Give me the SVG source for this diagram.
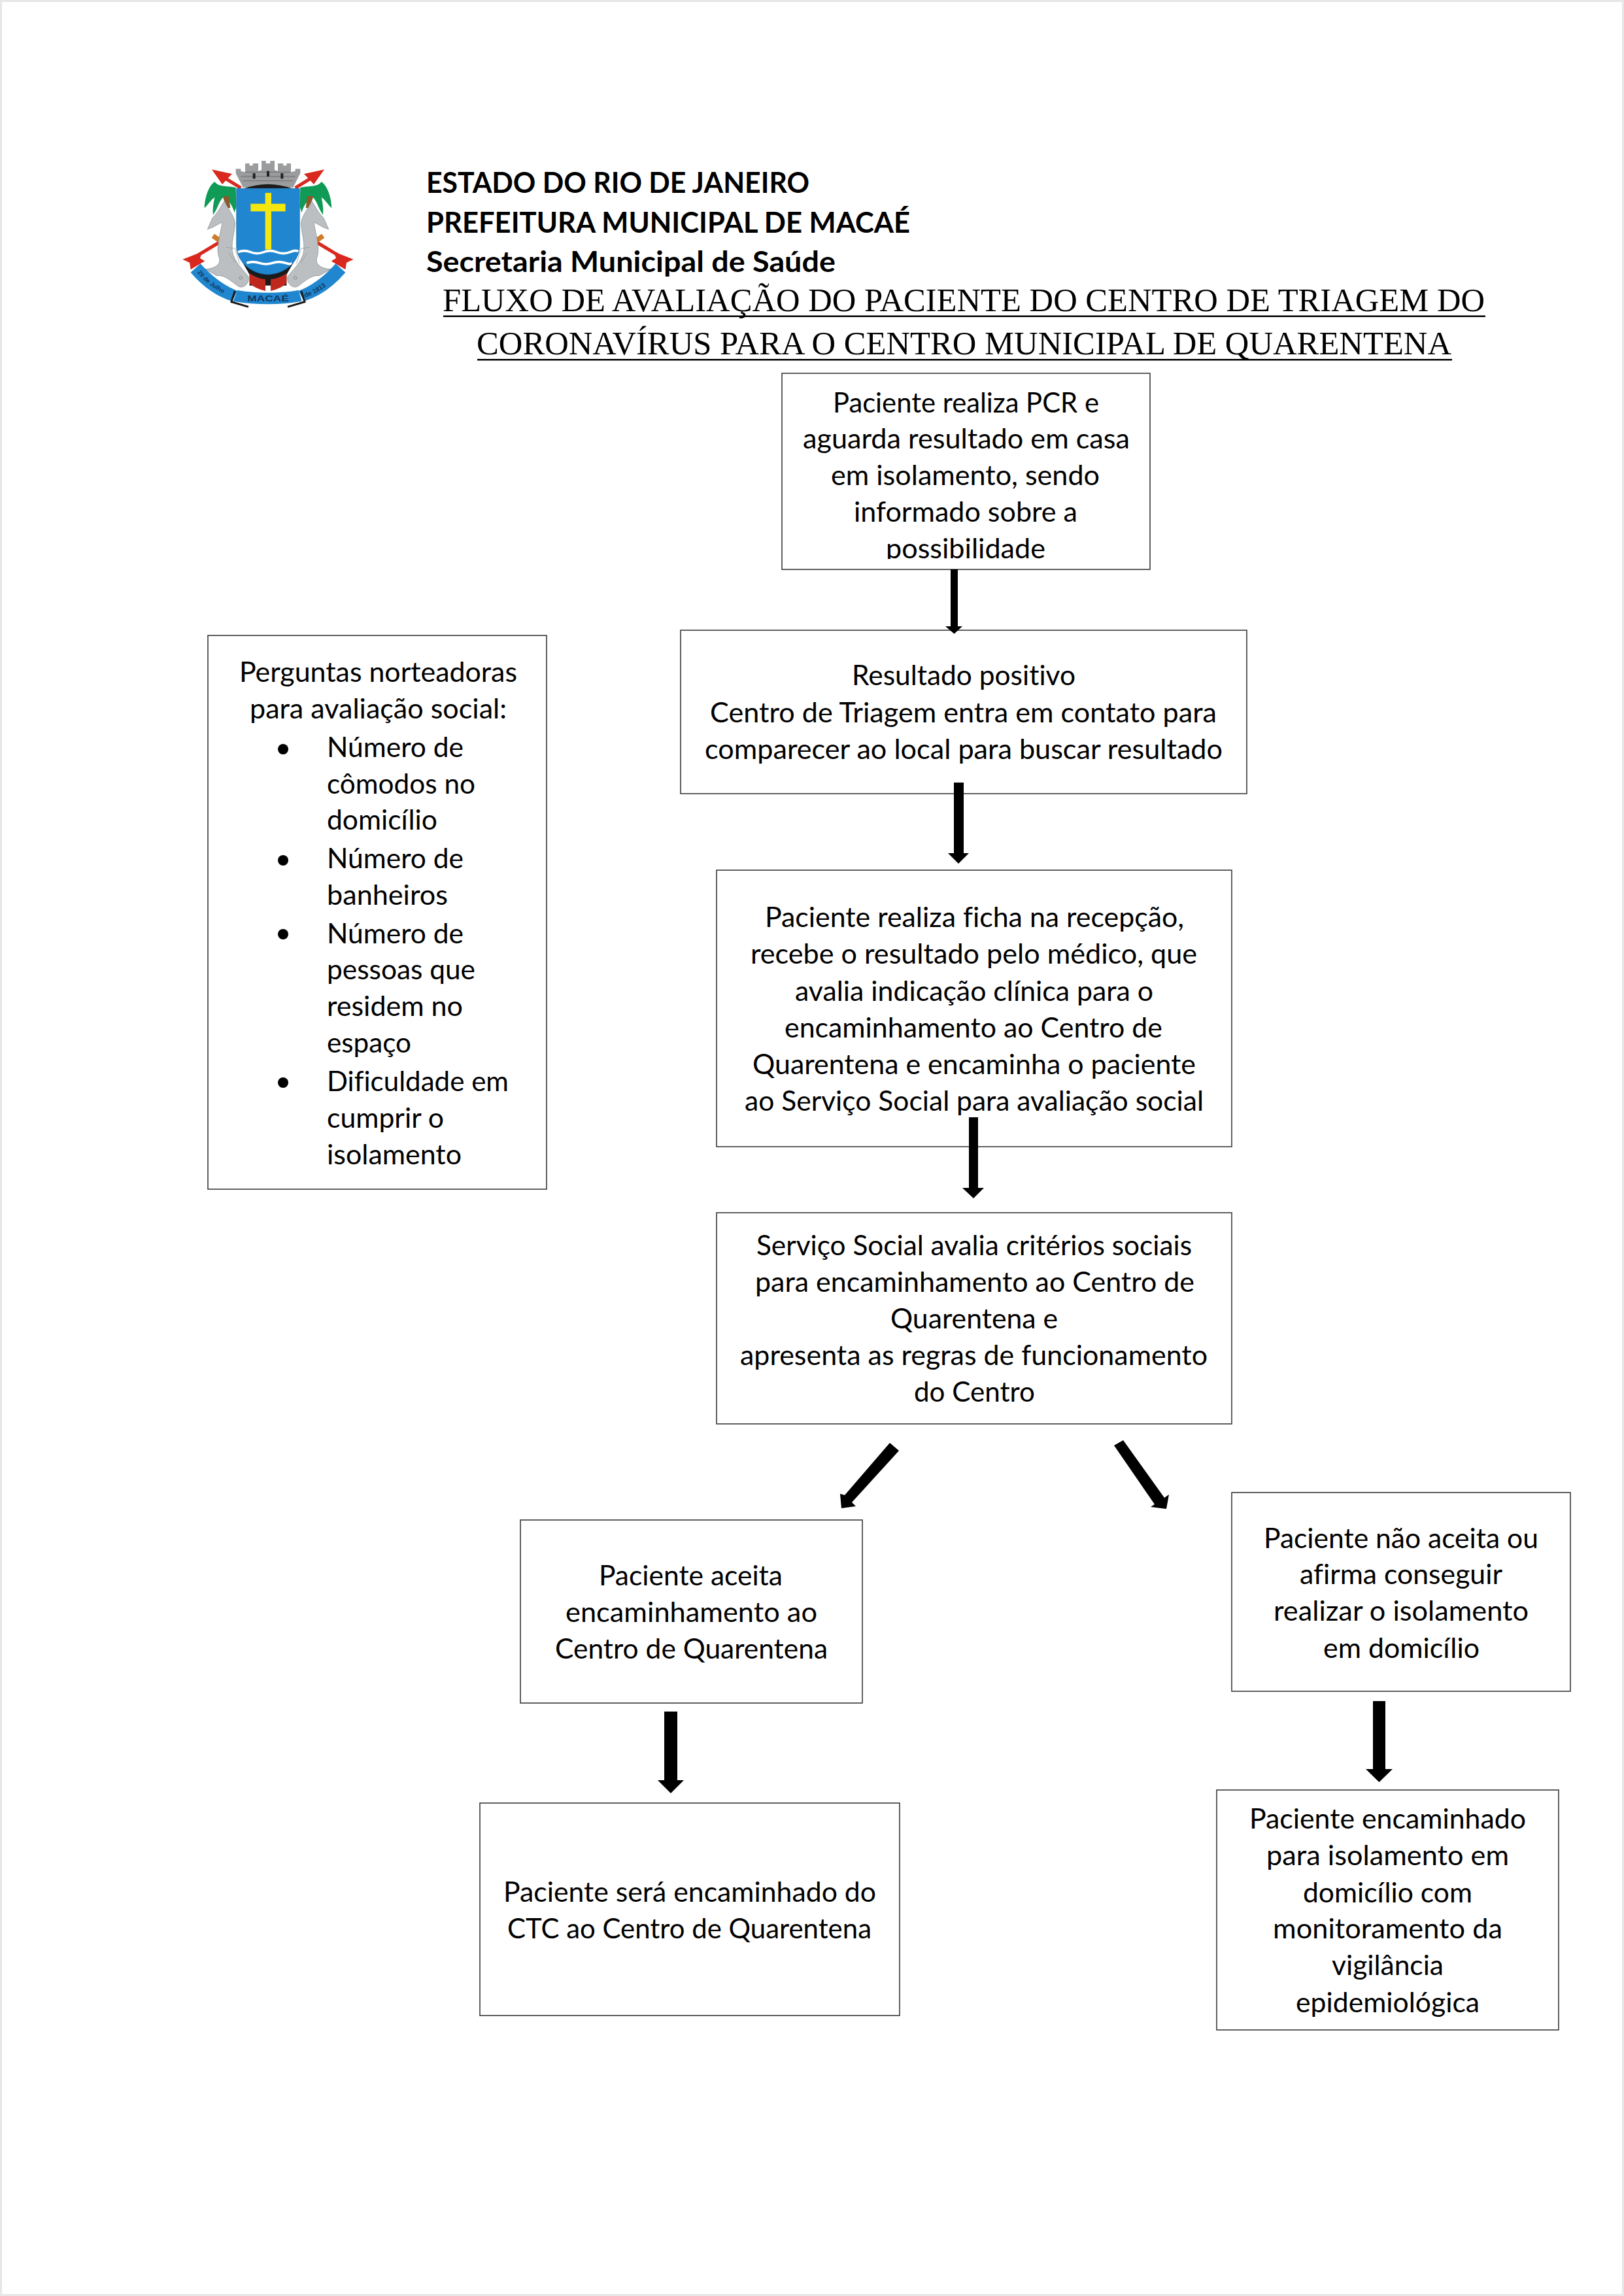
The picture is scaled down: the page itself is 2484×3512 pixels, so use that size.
<svg xmlns="http://www.w3.org/2000/svg" xmlns:xlink="http://www.w3.org/1999/xlink" width="2484" height="3512" viewBox="0 0 2484 3512">
<style>
.box{fill:#fff;stroke:#3a3a3a;stroke-width:1.6}
text{fill:#000;font-variant-ligatures:none}
.b{font-family:"Lato","Carlito","Liberation Sans",sans-serif;font-size:42px}
.h{font-family:"Lato","Carlito","Liberation Sans",sans-serif;font-size:44px;font-weight:700}
.t{font-family:"Liberation Serif","Times New Roman",serif;font-size:51px}
.ar{fill:#000}
.red{fill:#d9281e}
.redl{stroke:#d9281e;stroke-width:15;fill:none}
.lg{font-family:"Liberation Sans",sans-serif;font-weight:700;fill:#14365e}
</style>
<defs>
<clipPath id="clip1"><rect x="1197" y="572" width="561" height="283"/></clipPath>
<g id="logo-half">
<line class="redl" x1="385" y1="202" x2="300" y2="150"/>
<polygon class="red" points="252,118 345,138 325,158 300,186"/>
<path fill="#0f9a55" d="M362,200C320,192 285,200 265,174C240,190 220,240 218,295C238,275 250,255 265,245C258,280 255,300 258,326C280,295 285,262 305,245C325,250 345,280 356,315L364,290Z"/>
<rect x="303" y="360" width="20" height="62" fill="#0f9a55"/>
<path fill="#8a5a2b" d="M302,240L330,240L337,295L318,295Z"/>
<line class="redl" x1="290" y1="450" x2="190" y2="510"/>
<polygon class="red" points="118,530 208,495 198,525 220,538 155,577 150,545"/>
<rect x="253" y="423" width="44" height="22" fill="#d07a2a" transform="rotate(35 274 435)"/>
<path fill="#bcbfc1" stroke="#7f8386" stroke-width="2" d="M310,262C290,290 285,310 255,340L232,392C260,385 285,365 300,360C290,420 270,480 285,520C300,560 250,575 222,575L275,605C310,600 340,630 375,655C400,665 425,640 420,610C400,580 370,560 350,510C335,460 360,400 358,360C350,320 325,300 310,262Z"/>
<path fill="none" stroke="#8c9092" stroke-width="2" d="M318,475L358,480L380,550M330,500L360,545"/>
<circle cx="385" cy="615" r="7" fill="none" stroke="#6d7173" stroke-width="2"/>
<path fill="#1f86cf" d="M155,590Q240,690 345,722L370,675Q280,640 200,550Z"/>
<path fill="none" stroke="#1a1a1a" stroke-width="9" d="M358,675L342,725L420,748"/>
</g>
</defs>
<rect id="page" x="1.5" y="1.5" width="2481" height="3509" fill="#fff" stroke="#e6e6e6" stroke-width="3"/>

<g id="logo" transform="translate(240 220) scale(.33333)">
<use href="#logo-half" xlink:href="#logo-half"/>
<use href="#logo-half" xlink:href="#logo-half" transform="translate(1020 0) scale(-1 1)"/>
<polygon fill="#9a9c9d" points="362,115 385,115 385,125 405,130 405,90 425,90 425,100 440,100 440,90 465,90 465,125 480,120 480,78 500,78 500,90 520,90 520,78 540,78 540,120 555,125 555,90 580,90 580,100 595,100 595,90 615,90 615,130 635,125 635,115 658,115 658,135 625,200 395,200 362,135"/>
<path fill="none" stroke="#6c6e6f" stroke-width="3" d="M385,150H635M395,170H625M405,130H615"/>
<rect x="440" y="135" width="12" height="25" fill="#222"/>
<rect x="504" y="125" width="12" height="25" fill="#222"/>
<rect x="568" y="135" width="12" height="25" fill="#222"/>
<path fill="#1c1c1c" d="M400,205Q510,165 620,205Z"/>
<path fill="#1a1a1a" d="M385,530L425,600L425,650L595,650L595,600L635,530Z"/>
<path fill="#1f86cf" stroke="#1668ab" stroke-width="2" d="M365,205H655V470C655,530 600,595 510,600C420,595 365,530 365,470Z"/>
<path fill="none" stroke="#fff" stroke-width="11" d="M372,497Q400,485 430,497T490,497T550,497T610,497T648,494"/>
<path fill="none" stroke="#fff" stroke-width="11" d="M412,547Q440,537 470,547T530,547T590,547T612,545"/>
<rect x="497" y="225" width="28" height="260" fill="#f4e60f"/>
<rect x="430" y="275" width="160" height="35" fill="#f4e60f"/>
<path fill="#c1281d" d="M425,595Q465,620 498,622V675Q450,665 425,640Z"/>
<path fill="#c1281d" d="M595,595Q555,620 522,622V675Q570,665 595,640Z"/>
<path fill="#1f86cf" d="M370,672Q510,695 650,672L665,722Q510,750 350,722Z"/>
<text class="lg" x="510" y="722" font-size="38" text-anchor="middle" textLength="190" lengthAdjust="spacingAndGlyphs">MACAÉ</text>
<path id="lg-a" d="M185,590Q240,660 335,700" fill="none"/>
<path id="lg-b" d="M680,705Q780,670 835,590" fill="none"/>
<text class="lg" font-size="28"><textPath href="#lg-a" xlink:href="#lg-a">29 de Julho</textPath></text>
<text class="lg" font-size="30"><textPath href="#lg-b" xlink:href="#lg-b">de 1813</textPath></text>
</g>

<g id="header">
<text class="h" x="652" y="295" textLength="586" lengthAdjust="spacingAndGlyphs">ESTADO DO RIO DE JANEIRO</text>
<text class="h" x="652" y="356" textLength="740" lengthAdjust="spacingAndGlyphs">PREFEITURA MUNICIPAL DE MACAÉ</text>
<text class="h" x="652" y="416" textLength="626" lengthAdjust="spacingAndGlyphs">Secretaria Municipal de Saúde</text>
</g>
<g id="title">
<text class="t" x="677" y="476" textLength="1594" lengthAdjust="spacingAndGlyphs">FLUXO DE AVALIAÇÃO DO PACIENTE DO CENTRO DE TRIAGEM DO</text>
<rect x="678" y="482.5" width="1594" height="2.5"/>
<text class="t" x="729" y="542" textLength="1491" lengthAdjust="spacingAndGlyphs">CORONAVÍRUS PARA O CENTRO MUNICIPAL DE QUARENTENA</text>
<rect x="730" y="549" width="1491" height="2.5"/>
</g>

<g id="node-pcr">
<rect class="box" x="1196" y="571" width="563" height="300"/>
<g clip-path="url(#clip1)">
<text class="b" x="1274" y="630.5" textLength="407" lengthAdjust="spacingAndGlyphs">Paciente realiza PCR e</text>
<text class="b" x="1228" y="686" textLength="500" lengthAdjust="spacingAndGlyphs">aguarda resultado em casa</text>
<text class="b" x="1271" y="742" textLength="411" lengthAdjust="spacingAndGlyphs">em isolamento, sendo</text>
<text class="b" x="1306" y="798" textLength="342" lengthAdjust="spacingAndGlyphs">informado sobre a</text>
<text class="b" x="1355" y="854" textLength="244" lengthAdjust="spacingAndGlyphs">possibilidade</text>
</g>
</g>

<g id="node-perguntas">
<rect class="box" x="318" y="972" width="518" height="847"/>
<text class="b" x="366" y="1043" textLength="425" lengthAdjust="spacingAndGlyphs">Perguntas norteadoras</text>
<text class="b" x="382" y="1099" textLength="393" lengthAdjust="spacingAndGlyphs">para avaliação social:</text>
<circle cx="433" cy="1146" r="8"/>
<text class="b" x="500" y="1158" textLength="209" lengthAdjust="spacingAndGlyphs">Número de</text>
<text class="b" x="500" y="1214" textLength="227" lengthAdjust="spacingAndGlyphs">cômodos no</text>
<text class="b" x="500" y="1269" textLength="169" lengthAdjust="spacingAndGlyphs">domicílio</text>
<circle cx="433" cy="1316" r="8"/>
<text class="b" x="500" y="1328" textLength="209" lengthAdjust="spacingAndGlyphs">Número de</text>
<text class="b" x="500" y="1384" textLength="185" lengthAdjust="spacingAndGlyphs">banheiros</text>
<circle cx="433" cy="1429" r="8"/>
<text class="b" x="500" y="1443" textLength="209" lengthAdjust="spacingAndGlyphs">Número de</text>
<text class="b" x="500" y="1498" textLength="227" lengthAdjust="spacingAndGlyphs">pessoas que</text>
<text class="b" x="500" y="1554" textLength="208" lengthAdjust="spacingAndGlyphs">residem no</text>
<text class="b" x="500" y="1610" textLength="129" lengthAdjust="spacingAndGlyphs">espaço</text>
<circle cx="433" cy="1656" r="8"/>
<text class="b" x="500" y="1669" textLength="278" lengthAdjust="spacingAndGlyphs">Dificuldade em</text>
<text class="b" x="500" y="1725" textLength="179" lengthAdjust="spacingAndGlyphs">cumprir o</text>
<text class="b" x="500" y="1781" textLength="206" lengthAdjust="spacingAndGlyphs">isolamento</text>
</g>

<g id="node-positivo">
<rect class="box" x="1041" y="964" width="866" height="250"/>
<text class="b" x="1303" y="1048" textLength="342" lengthAdjust="spacingAndGlyphs">Resultado positivo</text>
<text class="b" x="1086" y="1104.5" textLength="775" lengthAdjust="spacingAndGlyphs">Centro de Triagem entra em contato para</text>
<text class="b" x="1078" y="1161" textLength="792" lengthAdjust="spacingAndGlyphs">comparecer ao local para buscar resultado</text>
</g>

<g id="node-ficha">
<rect class="box" x="1096" y="1331" width="788" height="423"/>
<text class="b" x="1170" y="1418" textLength="641" lengthAdjust="spacingAndGlyphs">Paciente realiza ficha na recepção,</text>
<text class="b" x="1148" y="1474" textLength="683" lengthAdjust="spacingAndGlyphs">recebe o resultado pelo médico, que</text>
<text class="b" x="1216" y="1530.5" textLength="548" lengthAdjust="spacingAndGlyphs">avalia indicação clínica para o</text>
<text class="b" x="1200" y="1587" textLength="578" lengthAdjust="spacingAndGlyphs">encaminhamento ao Centro de</text>
<text class="b" x="1151" y="1643" textLength="678" lengthAdjust="spacingAndGlyphs">Quarentena e encaminha o paciente</text>
<text class="b" x="1139" y="1699" textLength="702" lengthAdjust="spacingAndGlyphs">ao Serviço Social para avaliação social</text>
</g>

<g id="node-servico">
<rect class="box" x="1096" y="1855" width="788" height="323"/>
<text class="b" x="1157" y="1920" textLength="666" lengthAdjust="spacingAndGlyphs">Serviço Social avalia critérios sociais</text>
<text class="b" x="1155" y="1976" textLength="672" lengthAdjust="spacingAndGlyphs">para encaminhamento ao Centro de</text>
<text class="b" x="1362" y="2032" textLength="256" lengthAdjust="spacingAndGlyphs">Quarentena e</text>
<text class="b" x="1132" y="2088" textLength="715" lengthAdjust="spacingAndGlyphs">apresenta as regras de funcionamento</text>
<text class="b" x="1398" y="2144" textLength="185" lengthAdjust="spacingAndGlyphs">do Centro</text>
</g>

<g id="node-aceita">
<rect class="box" x="796" y="2325" width="523" height="280"/>
<text class="b" x="916" y="2425" textLength="281" lengthAdjust="spacingAndGlyphs">Paciente aceita</text>
<text class="b" x="865" y="2481" textLength="385" lengthAdjust="spacingAndGlyphs">encaminhamento ao</text>
<text class="b" x="849" y="2537" textLength="417" lengthAdjust="spacingAndGlyphs">Centro de Quarentena</text>
</g>

<g id="node-nao-aceita">
<rect class="box" x="1884" y="2283" width="518" height="304"/>
<text class="b" x="1933" y="2367.5" textLength="420" lengthAdjust="spacingAndGlyphs">Paciente não aceita ou</text>
<text class="b" x="1988" y="2423" textLength="310" lengthAdjust="spacingAndGlyphs">afirma conseguir</text>
<text class="b" x="1948" y="2479" textLength="390" lengthAdjust="spacingAndGlyphs">realizar o isolamento</text>
<text class="b" x="2024" y="2535.5" textLength="239" lengthAdjust="spacingAndGlyphs">em domicílio</text>
</g>

<g id="node-ctc">
<rect class="box" x="734" y="2758" width="642" height="325"/>
<text class="b" x="770" y="2908.5" textLength="570" lengthAdjust="spacingAndGlyphs">Paciente será encaminhado do</text>
<text class="b" x="776" y="2965" textLength="557" lengthAdjust="spacingAndGlyphs">CTC ao Centro de Quarentena</text>
</g>

<g id="node-domicilio">
<rect class="box" x="1861" y="2738" width="523" height="367"/>
<text class="b" x="1911" y="2797" textLength="423" lengthAdjust="spacingAndGlyphs">Paciente encaminhado</text>
<text class="b" x="1937" y="2853" textLength="371" lengthAdjust="spacingAndGlyphs">para isolamento em</text>
<text class="b" x="1993" y="2910" textLength="259" lengthAdjust="spacingAndGlyphs">domicílio com</text>
<text class="b" x="1947" y="2965" textLength="351" lengthAdjust="spacingAndGlyphs">monitoramento da</text>
<text class="b" x="2037" y="3021" textLength="171" lengthAdjust="spacingAndGlyphs">vigilância</text>
<text class="b" x="1982" y="3078" textLength="281" lengthAdjust="spacingAndGlyphs">epidemiológica</text>
</g>

<g id="connectors">
<polygon class="ar" points="1454,871 1465,871 1465,958 1472,958 1459.5,969.5 1446,958 1454,958"/>
<polygon class="ar" points="1459,1197 1474,1197 1474,1305 1482,1305 1466,1321 1450,1305 1459,1305"/>
<polygon class="ar" points="1482,1709 1496,1709 1496,1817 1505,1817 1489,1833 1472,1817 1482,1817"/>
<polygon class="ar" points="1361,2207 1375,2219 1303,2298 1309,2304 1287,2307 1285,2285 1292,2287"/>
<polygon class="ar" points="1704,2211 1718,2203 1781,2291 1788,2286 1784,2308 1760,2305 1766,2301"/>
<polygon class="ar" points="1016,2618 1036,2618 1036,2723 1046,2723 1026,2743 1006,2723 1016,2723"/>
<polygon class="ar" points="2100,2602 2119,2602 2119,2706 2130,2706 2109.5,2726 2089,2706 2100,2706"/>
</g>
</svg>
